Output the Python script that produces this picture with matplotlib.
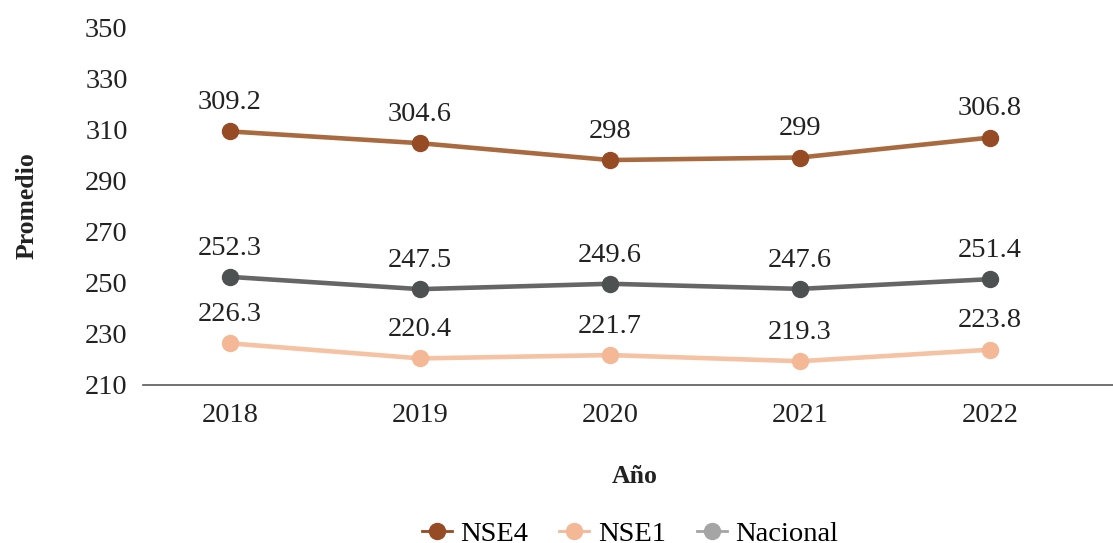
import matplotlib.pyplot as plt
from matplotlib.lines import Line2D

anios = ['2018', '2019', '2020', '2021', '2022']
nse4 = [309.2, 304.6, 298, 299, 306.8]
nacional = [252.3, 247.5, 249.6, 247.6, 251.4]
nse1 = [226.3, 220.4, 221.7, 219.3, 223.8]
yticks = [210, 230, 250, 270, 290, 310, 330, 350]

plt.rcParams['font.family'] = ['Liberation Serif', 'DejaVu Serif']

fig = plt.figure(figsize=(11.13, 5.43), dpi=100)
ax = fig.add_axes([0.1285, 0.291, 0.8715, 0.659])

x = list(range(len(anios)))
series = [
    (nse4, '#A96A40', '#974B24'),
    (nacional, '#666666', '#4D5152'),
    (nse1, '#F6C2A4', '#F4B897'),
]
for vals, lc, mc in series:
    ax.plot(x, vals, color=lc, lw=3.3, zorder=2, solid_capstyle='round')
    ax.plot(x, vals, 'o', color=mc, ms=11.5, zorder=3)
    for xi, v in zip(x, vals):
        ax.annotate(f'{v:g}', (xi, v), xytext=(0, 16), textcoords='offset points',
                    ha='center', va='baseline', fontsize=20.5, color='#222222')

ax.set_xlim(-0.458, 4.647)
ax.set_ylim(210, 350)
ax.set_yticks(yticks)
ax.set_xticks(x)
ax.set_xticklabels(anios)
ax.tick_params(length=0, labelsize=20.5, colors='#222222')
ax.tick_params(axis='y', pad=11)
ax.tick_params(axis='x', pad=13)
for s in ['top', 'right', 'left']:
    ax.spines[s].set_visible(False)
ax.spines['bottom'].set_color('#595959')
ax.spines['bottom'].set_linewidth(1.2)

ax.set_ylabel('Promedio', fontsize=18.5, fontweight='bold', color='#222222')
fig.text(0.57, 0.123, 'Año', ha='center', va='center', fontsize=18.5,
         fontweight='bold', color='#222222')
ax.yaxis.set_label_coords(-0.108, 0.5)

handles = [
    Line2D([], [], color='#974B24', marker='o', ms=11.5, lw=2),
    Line2D([], [], color='#F4B897', marker='o', ms=11.5, lw=2),
    Line2D([], [], color='#A5A5A5', marker='o', ms=11.5, lw=2),
]
fig.legend(handles, ['NSE4', 'NSE1', 'Nacional'], loc='lower center',
           bbox_to_anchor=(0.566, -0.055), ncol=3, frameon=False, fontsize=20.5,
           handlelength=1.05, handletextpad=0.3, columnspacing=1.1)

plt.savefig('out.png', dpi=100)
